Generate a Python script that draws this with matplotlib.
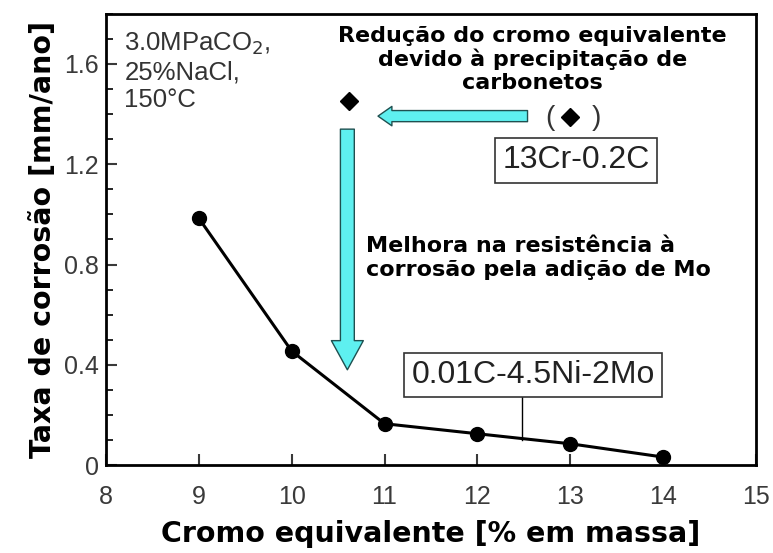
import matplotlib
matplotlib.use("Agg")
import matplotlib.pyplot as plt
from matplotlib.patches import FancyArrowPatch
from matplotlib.ticker import MultipleLocator, FuncFormatter

# corrosion rate vs chromium equivalent
cr_eq = [9, 10, 11, 12, 13, 14]
rate = [0.985, 0.455, 0.165, 0.125, 0.085, 0.032]

# 13Cr-0.2C points (nominal and corrected)
diam_x = [13.0, 10.62]
diam_y = [1.39, 1.452]

xticks = [8, 9, 10, 11, 12, 13, 14, 15]
yticks = [0, 0.4, 0.8, 1.2, 1.6]

cyan = '#5ef0f0'
edge = '#1f5050'
tickfont = 'Liberation Sans'

fig = plt.figure(figsize=(7.73, 5.53), dpi=100)
ax = fig.add_axes([0.137, 0.159, 0.841, 0.816])

ax.plot(cr_eq, rate, color='black', lw=2.2, marker='o', ms=10, zorder=3)
ax.plot(diam_x, diam_y, ls='none', marker='D', ms=9, color='black', zorder=3)

ax.set_xlim(8, 15)
ax.set_ylim(0, 1.8)
ax.set_xticks(xticks)
ax.set_yticks(yticks)
ax.yaxis.set_minor_locator(MultipleLocator(0.1))
ax.yaxis.set_major_formatter(FuncFormatter(lambda v, p: '0' if v == 0 else f'{v:.1f}'))
ax.tick_params(direction='in', length=8, width=1.5, labelsize=18, colors='#3a3a3a')
ax.tick_params(which='minor', direction='in', length=5, width=1.2)
ax.tick_params(axis='x', pad=14)
ax.tick_params(axis='y', pad=5)
for lab in ax.get_xticklabels() + ax.get_yticklabels():
    lab.set_fontfamily(tickfont)
for s in ax.spines.values():
    s.set_linewidth(2)

ax.set_ylabel('Taxa de corrosão [mm/ano]', fontsize=20.5, fontweight='bold', labelpad=5)
ax.set_xlabel('Cromo equivalente [% em massa]', fontsize=20.5, fontweight='bold', labelpad=8)

# conditions
ax.text(8.2, 1.735, '3.0MPaCO$_2$,\n25%NaCl,\n150°C', fontsize=18.5, family=tickfont,
        color='#333333', va='top', ha='left', linespacing=1.2)

# arrows
harrow = FancyArrowPatch((12.54, 1.392), (10.93, 1.392),
                         arrowstyle='simple,head_length=10,head_width=14,tail_width=8',
                         mutation_scale=1, shrinkA=0, shrinkB=0, fc=cyan, ec=edge, lw=1)
ax.add_patch(harrow)
varrow = FancyArrowPatch((10.6, 1.34), (10.6, 0.38),
                         arrowstyle='simple,head_length=21,head_width=23,tail_width=10',
                         mutation_scale=1, shrinkA=0, shrinkB=0, fc=cyan, ec=edge, lw=1)
ax.add_patch(varrow)

ax.text(12.59, 1.75, 'Redução do cromo equivalente\ndevido à precipitação de\ncarbonetos',
        fontsize=16, fontweight='bold', ha='center', va='top', linespacing=1.15)
ax.text(12.78, 1.384, '(', fontsize=20, family=tickfont, ha='center', va='center', color='#333333')
ax.text(13.28, 1.384, ')', fontsize=20, family=tickfont, ha='center', va='center', color='#333333')

ax.text(13.06, 1.215, '13Cr-0.2C', fontsize=23, family=tickfont, ha='center', va='center', color='#222222',
        bbox=dict(boxstyle='square,pad=0.22', fc='white', ec='#333333', lw=1.2))

ax.text(10.8, 0.915, 'Melhora na resistência à\ncorrosão pela adição de Mo',
        fontsize=16, fontweight='bold', ha='left', va='top', linespacing=1.3)

# alloy label
ax.plot([12.48, 12.48], [0.27, 0.10], color='black', lw=1)
ax.text(12.6, 0.36, '0.01C-4.5Ni-2Mo', fontsize=23, family=tickfont, ha='center', va='center', color='#222222',
        bbox=dict(boxstyle='square,pad=0.22', fc='white', ec='#333333', lw=1.2))

fig.savefig('out.png', dpi=100)
